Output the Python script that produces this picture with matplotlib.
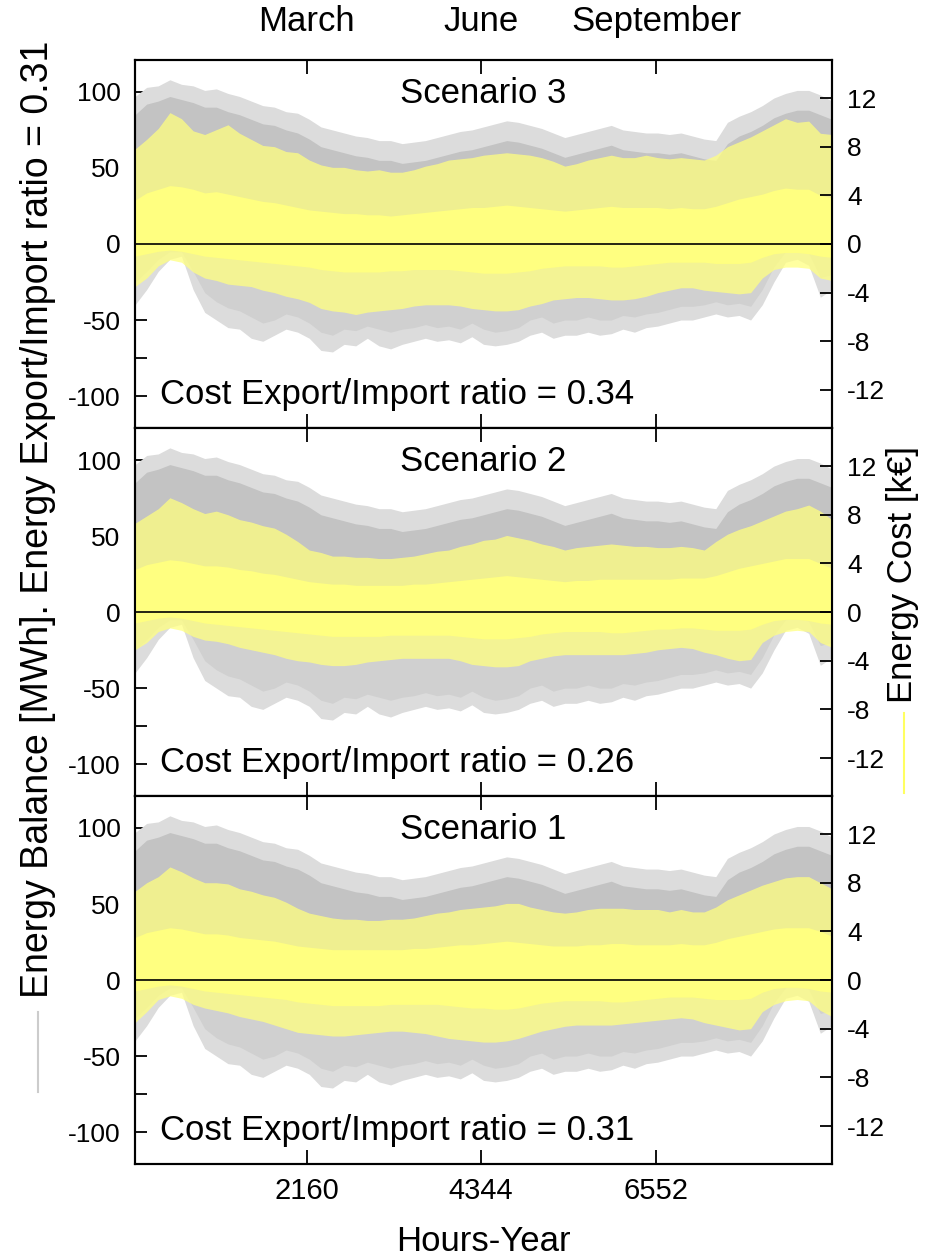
import numpy as np
import matplotlib.pyplot as plt
from matplotlib import transforms
from matplotlib.lines import Line2D

plt.rcParams['font.family'] = ['Liberation Sans', 'DejaVu Sans']
plt.rcParams['axes.unicode_minus'] = False

# hour of year, one reading every ~6 days
hours = np.linspace(0, 8760, 61)

# energy balance envelope [MWh] (same in all scenarios)
gray_max = [97, 103, 104, 108, 105, 104, 101, 102, 99, 97,
            94, 91, 90, 87, 86, 82, 77, 75, 73, 71,
            70, 68, 68, 66, 67, 68, 70, 72, 74, 75,
            77, 79, 81, 80, 78, 76, 73, 70, 72, 74,
            76, 78, 75, 74, 73, 73, 72, 73, 71, 69,
            68, 80, 84, 87, 91, 96, 99, 101, 101, 98,
            94]
gray_hi = [85, 92, 94, 97, 95, 93, 90, 90, 87, 85,
           82, 79, 78, 75, 73, 69, 64, 62, 60, 58,
           57, 55, 55, 53, 54, 55, 57, 59, 61, 62,
           64, 66, 68, 67, 65, 63, 60, 57, 59, 61,
           63, 65, 62, 61, 60, 60, 59, 60, 58, 56,
           55, 66, 71, 74, 78, 83, 86, 88, 88, 85,
           82]
gray_lo = [-25, -18, -10, -5, -5, -18, -32, -38, -42, -44,
           -48, -52, -50, -46, -48, -52, -58, -60, -56, -57,
           -54, -56, -58, -56, -55, -53, -55, -54, -56, -52,
           -56, -58, -57, -55, -50, -48, -52, -50, -50, -48,
           -50, -50, -47, -48, -46, -45, -43, -41, -41, -40,
           -38, -40, -39, -41, -30, -15, -5, -4, -6, -22,
           -20]
gray_min = [-40, -30, -18, -10, -8, -30, -45, -50, -55, -56,
            -62, -64, -60, -56, -58, -62, -70, -71, -66, -67,
            -62, -67, -69, -66, -64, -62, -64, -63, -65, -61,
            -66, -67, -66, -64, -60, -58, -62, -60, -60, -58,
            -60, -59, -56, -58, -55, -54, -52, -50, -50, -48,
            -46, -48, -47, -50, -40, -25, -12, -10, -14, -35,
            -30]

# energy cost envelope [k€], scenario 3
s3_max = [7.8, 8.6, 9.5, 10.8, 10.3, 9.3, 9.0, 9.4, 9.8, 9.1,
          8.6, 8.1, 8.0, 7.6, 7.5, 6.9, 6.5, 6.3, 6.3, 6.1,
          6.0, 6.1, 5.9, 5.9, 6.1, 6.4, 6.6, 6.9, 7.0, 7.1,
          7.3, 7.4, 7.5, 7.4, 7.3, 7.1, 6.8, 6.4, 6.6, 6.9,
          7.1, 7.3, 7.1, 7.1, 7.3, 7.1, 7.0, 7.1, 7.0, 6.9,
          7.3, 8.0, 8.4, 8.8, 9.3, 9.8, 10.3, 10.0, 10.1, 9.1,
          9.0]
s3_hi = [3.6, 4.2, 4.5, 4.8, 4.7, 4.5, 4.2, 4.3, 4.1, 3.9,
         3.7, 3.5, 3.4, 3.2, 3.0, 2.8, 2.7, 2.6, 2.5, 2.5,
         2.4, 2.4, 2.3, 2.4, 2.5, 2.6, 2.7, 2.8, 2.9, 3.0,
         3.0, 3.1, 3.2, 3.1, 3.0, 2.9, 2.8, 2.7, 2.8, 2.9,
         3.0, 3.1, 3.0, 3.0, 3.0, 3.0, 2.9, 3.0, 2.9, 2.9,
         3.1, 3.4, 3.7, 3.9, 4.1, 4.4, 4.6, 4.5, 4.5, 4.0,
         3.8]
s3_lo = [-1.0, -0.8, -0.6, -0.5, -0.6, -0.8, -1.0, -1.1, -1.2, -1.3,
         -1.4, -1.5, -1.6, -1.7, -1.8, -1.9, -2.1, -2.2, -2.3, -2.3,
         -2.3, -2.3, -2.2, -2.2, -2.1, -2.1, -2.1, -2.1, -2.2, -2.3,
         -2.4, -2.4, -2.4, -2.3, -2.2, -2.0, -1.9, -1.8, -1.8, -1.8,
         -1.8, -1.9, -1.9, -1.8, -1.7, -1.6, -1.5, -1.5, -1.5, -1.5,
         -1.6, -1.6, -1.6, -1.5, -1.1, -0.8, -0.7, -0.7, -0.8, -1.0,
         -1.1]
s3_min = [-3.5, -2.8, -1.8, -1.3, -1.5, -2.3, -2.8, -3.0, -3.3, -3.4,
          -3.5, -3.8, -4.0, -4.3, -4.5, -4.8, -5.3, -5.5, -5.6, -5.8,
          -5.6, -5.5, -5.4, -5.3, -5.1, -5.0, -5.0, -5.0, -5.1, -5.3,
          -5.4, -5.5, -5.5, -5.4, -5.1, -4.9, -4.6, -4.5, -4.4, -4.4,
          -4.5, -4.6, -4.6, -4.5, -4.3, -4.0, -3.8, -3.6, -3.6, -3.8,
          -3.9, -4.0, -4.1, -4.0, -2.8, -2.1, -1.9, -1.9, -2.0, -2.8,
          -3.0]

# scenario 2
s2_max = [7.3, 7.9, 8.5, 9.4, 9.0, 8.5, 8.1, 8.3, 8.0, 7.6,
          7.4, 7.1, 6.9, 6.4, 5.8, 5.1, 4.9, 4.6, 4.6, 4.5,
          4.5, 4.4, 4.4, 4.5, 4.6, 4.8, 5.0, 5.1, 5.4, 5.6,
          5.9, 6.0, 6.3, 6.1, 5.9, 5.6, 5.4, 5.1, 5.3, 5.4,
          5.5, 5.6, 5.5, 5.4, 5.4, 5.3, 5.3, 5.4, 5.3, 5.1,
          5.8, 6.4, 6.8, 7.1, 7.5, 7.9, 8.3, 8.5, 8.8, 8.3,
          7.6]
s2_hi = [3.5, 3.9, 4.1, 4.3, 4.2, 4.0, 3.8, 3.8, 3.7, 3.5,
         3.4, 3.2, 3.1, 2.9, 2.7, 2.5, 2.4, 2.3, 2.3, 2.2,
         2.2, 2.2, 2.2, 2.2, 2.3, 2.3, 2.4, 2.5, 2.6, 2.7,
         2.8, 2.9, 3.0, 2.9, 2.8, 2.7, 2.6, 2.5, 2.6, 2.6,
         2.7, 2.7, 2.7, 2.7, 2.7, 2.7, 2.7, 2.8, 2.8, 2.8,
         3.0, 3.3, 3.6, 3.8, 4.0, 4.2, 4.4, 4.4, 4.4, 4.0,
         3.6]
s2_lo = [-0.9, -0.7, -0.5, -0.4, -0.5, -0.7, -0.9, -1.0, -1.1, -1.2,
         -1.3, -1.4, -1.5, -1.6, -1.7, -1.8, -1.9, -2.0, -2.0, -2.0,
         -2.0, -2.0, -1.9, -1.9, -1.9, -1.9, -1.9, -1.9, -2.0, -2.1,
         -2.2, -2.2, -2.2, -2.1, -2.0, -1.8, -1.7, -1.6, -1.6, -1.6,
         -1.6, -1.7, -1.7, -1.6, -1.5, -1.4, -1.4, -1.3, -1.3, -1.4,
         -1.5, -1.5, -1.5, -1.4, -1.0, -0.7, -0.6, -0.6, -0.7, -0.9,
         -1.0]
s2_min = [-3.1, -2.5, -1.6, -1.3, -1.5, -2.0, -2.3, -2.4, -2.6, -2.9,
          -3.1, -3.3, -3.5, -3.8, -4.0, -4.1, -4.3, -4.4, -4.4, -4.3,
          -4.1, -4.0, -3.9, -3.8, -3.8, -3.8, -3.8, -3.8, -4.0, -4.3,
          -4.4, -4.5, -4.5, -4.4, -4.0, -3.8, -3.6, -3.5, -3.5, -3.5,
          -3.5, -3.5, -3.5, -3.4, -3.3, -3.1, -3.0, -2.9, -3.0, -3.3,
          -3.5, -3.8, -4.0, -3.9, -2.5, -1.9, -1.6, -1.5, -1.6, -2.5,
          -2.9]

# scenario 1
s1_max = [7.3, 8.0, 8.5, 9.3, 8.9, 8.4, 8.0, 8.0, 7.9, 7.5,
          7.3, 7.0, 6.8, 6.4, 5.9, 5.5, 5.3, 5.1, 5.0, 5.0,
          4.9, 4.9, 5.0, 5.0, 5.1, 5.3, 5.5, 5.6, 5.8, 5.9,
          6.0, 6.1, 6.3, 6.3, 6.0, 5.8, 5.6, 5.5, 5.6, 5.8,
          5.9, 5.9, 5.9, 5.8, 5.8, 5.8, 5.6, 5.8, 5.6, 5.6,
          6.0, 6.6, 7.0, 7.4, 7.8, 8.1, 8.4, 8.5, 8.5, 8.0,
          7.5]
s1_hi = [3.5, 3.9, 4.1, 4.3, 4.2, 4.0, 3.8, 3.8, 3.7, 3.5,
         3.4, 3.3, 3.2, 3.0, 2.8, 2.7, 2.6, 2.5, 2.5, 2.5,
         2.5, 2.5, 2.5, 2.5, 2.6, 2.6, 2.7, 2.8, 2.9, 2.9,
         3.0, 3.1, 3.2, 3.1, 3.0, 2.9, 2.8, 2.8, 2.8, 2.9,
         2.9, 3.0, 3.0, 2.9, 2.9, 2.9, 2.9, 3.0, 2.9, 2.9,
         3.1, 3.4, 3.6, 3.8, 4.0, 4.2, 4.3, 4.3, 4.3, 4.0,
         3.6]
s1_lo = [-0.9, -0.7, -0.5, -0.4, -0.5, -0.7, -0.9, -1.0, -1.1, -1.2,
         -1.3, -1.4, -1.5, -1.6, -1.8, -1.9, -2.0, -2.1, -2.1, -2.1,
         -2.1, -2.1, -2.0, -2.0, -2.0, -2.0, -2.0, -2.1, -2.2, -2.3,
         -2.3, -2.4, -2.4, -2.3, -2.1, -1.9, -1.8, -1.7, -1.7, -1.7,
         -1.7, -1.8, -1.8, -1.7, -1.6, -1.5, -1.4, -1.4, -1.4, -1.5,
         -1.6, -1.6, -1.6, -1.5, -1.0, -0.7, -0.6, -0.6, -0.7, -0.9,
         -1.0]
s1_min = [-3.5, -2.6, -1.6, -1.3, -1.5, -2.0, -2.3, -2.5, -2.7, -3.0,
          -3.2, -3.4, -3.7, -4.0, -4.3, -4.4, -4.5, -4.6, -4.6, -4.5,
          -4.4, -4.3, -4.2, -4.2, -4.3, -4.4, -4.6, -4.8, -4.9, -5.0,
          -5.1, -5.1, -5.0, -4.8, -4.5, -4.2, -4.0, -3.8, -3.7, -3.7,
          -3.7, -3.7, -3.6, -3.5, -3.4, -3.3, -3.2, -3.1, -3.2, -3.5,
          -3.7, -3.9, -4.1, -4.0, -2.6, -2.0, -1.7, -1.6, -1.7, -2.5,
          -3.0]

scenarios = ['Scenario 3', 'Scenario 2', 'Scenario 1']
cost_ratios = ['0.34', '0.26', '0.31']
yellow_sets = [(s3_min, s3_lo, s3_hi, s3_max),
               (s2_min, s2_lo, s2_hi, s2_max),
               (s1_min, s1_lo, s1_hi, s1_max)]
month_names = ['March', 'June', 'September']
month_hours = [2160, 4344, 6552]

fig = plt.figure(figsize=(9.28, 12.58), dpi=100)
bottoms = [0.6598, 0.3672, 0.0747]

axes = []
for k in range(3):
    ax = fig.add_axes([0.1455, bottoms[k], 0.751, 0.2925])
    ax2 = ax.twinx()
    axes.append(ax)

    # gray: sparse outer spikes, denser core
    ax.fill_between(hours, gray_min, gray_max, color='#dcdcdc', lw=0)
    ax.fill_between(hours, 0, gray_hi, color='#c3c3c3', lw=0)
    ax.fill_between(hours, gray_lo, 0, color='#d0d0d0', lw=0)

    ymin, ylo, yhi, ymax = yellow_sets[k]
    ax2.fill_between(hours, ymin, ymax, color='#ffff80', alpha=0.75, lw=0)
    ax2.fill_between(hours, ylo, yhi, color='#ffff80', lw=0)
    ax2.axhline(0, color='black', lw=1.2)

    ax.set_xlim(0, 8760)
    ax.set_ylim(-121, 121)
    ax2.set_ylim(-15.125, 15.125)

    ax.set_xticks(month_hours)
    ax.set_yticks([-100, -50, 0, 50, 100])
    ax.set_yticks([-75, -25, 25, 75], minor=True)
    ax2.set_yticks(np.arange(-12, 13, 4))
    ax.set_axisbelow(True)
    ax.tick_params(axis='y', which='both', direction='in', length=8.5,
                   width=1.3, labelsize=19, pad=10.5)
    ax.tick_params(axis='x', which='both', direction='in', length=10,
                   width=1.3, labelsize=21, pad=9, top=True, bottom=True)
    ax2.tick_params(axis='y', direction='in', length=8.5, width=1.3,
                    labelsize=19, pad=11)
    if k < 2:
        ax.tick_params(axis='x', labelbottom=False)
    for a in (ax, ax2):
        for s in a.spines.values():
            s.set_linewidth(1.5)

    ax.text(0.5, 0.91, scenarios[k], transform=ax.transAxes,
            ha='center', va='center', fontsize=25)
    ax.text(0.036, 0.09, 'Cost Export/Import ratio = ' + cost_ratios[k],
            transform=ax.transAxes, ha='left', va='center', fontsize=25)

# month names above the top panel
trans = transforms.blended_transform_factory(axes[0].transData, fig.transFigure)
for h, name in zip(month_hours, month_names):
    axes[0].text(h, 0.983, name, transform=trans, ha='center', va='center',
                 fontsize=25)

fig.text(0.521, 0.0135, 'Hours-Year', ha='center', va='center', fontsize=25)
fig.text(0.041, 0.5874, 'Energy Balance [MWh]. Energy Export/Import ratio = 0.31',
         rotation=90, ha='center', va='center', fontsize=27)
fig.text(0.972, 0.5437, 'Energy Cost [k€]', rotation=90, ha='center',
         va='center', fontsize=25)
fig.add_artist(Line2D([0.0406, 0.0406], [0.132, 0.1955], color='#cccccc',
                      lw=1.5, transform=fig.transFigure))
fig.add_artist(Line2D([0.974, 0.974], [0.3696, 0.4332], color='#ffff60',
                      lw=1.5, transform=fig.transFigure))

fig.savefig('out.png', dpi=100)
